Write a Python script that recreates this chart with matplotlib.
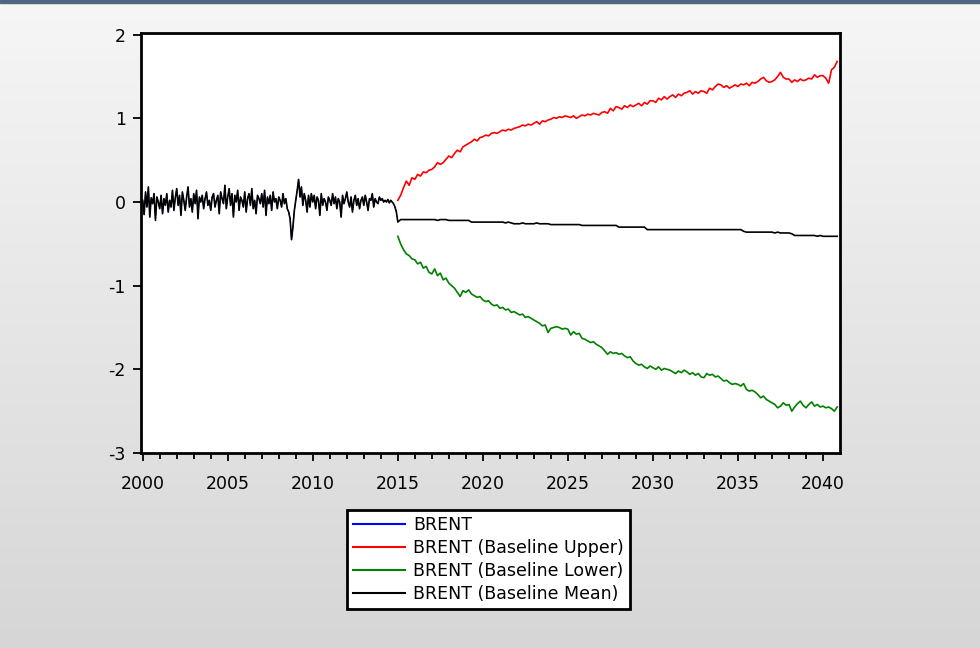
import numpy as np
import matplotlib
matplotlib.use("Agg")
import matplotlib.pyplot as plt
from matplotlib.patches import Rectangle

# ---- data (monthly history, bimonthly forecast) ----
hist_start = 2000.0
hist_vals = [
    0.02, -0.15, 0.12, -0.06, 0.18, -0.18, 0.05, -0.02, 0.10, -0.22, 0.06, 0.00,   # 2000
    -0.08, 0.08, -0.14, 0.04, -0.04, 0.10, -0.12, 0.02, -0.06, 0.14, -0.10, 0.05,  # 2001
    0.16, -0.04, 0.08, -0.16, 0.12, 0.02, -0.10, 0.06, 0.18, -0.06, 0.04, -0.12,   # 2002
    0.10, -0.02, 0.14, -0.20, 0.06, 0.00, 0.08, -0.08, 0.04, 0.12, -0.04, 0.02,    # 2003
    -0.10, 0.06, 0.10, -0.06, 0.02, 0.08, -0.14, 0.12, 0.04, -0.02, 0.20, -0.08,   # 2004
    0.06, 0.16, -0.04, 0.10, -0.18, 0.08, 0.00, 0.14, -0.10, 0.06, 0.02, -0.06,    # 2005
    0.12, -0.12, 0.04, 0.10, -0.04, 0.16, -0.08, 0.02, -0.14, 0.08, 0.04, -0.02,   # 2006
    0.10, -0.06, 0.14, -0.16, 0.06, -0.02, 0.08, -0.10, 0.12, 0.00, 0.04, -0.08,   # 2007
    0.06, 0.02, -0.06, 0.10, -0.02, 0.04, -0.08, -0.12, -0.20, -0.45, -0.30, -0.10,  # 2008
    0.02, 0.14, 0.27, 0.06, 0.18, -0.04, 0.10, 0.02, -0.12, 0.08, -0.06, 0.10,     # 2009
    0.00, 0.08, -0.08, 0.06, 0.02, -0.16, 0.10, -0.04, 0.04, 0.00, -0.10, 0.06,    # 2010
    0.02, -0.04, 0.10, -0.02, 0.06, -0.08, 0.04, 0.00, -0.18, 0.08, -0.02, 0.04,   # 2011
    0.12, 0.00, -0.06, 0.06, -0.12, 0.02, 0.08, -0.04, 0.04, -0.08, 0.02, 0.06,    # 2012
    -0.04, 0.08, 0.00, -0.10, 0.04, 0.02, 0.10, -0.06, 0.04, 0.00, -0.02, 0.06,    # 2013
    0.02, 0.04, 0.00, 0.02, 0.00, 0.03, -0.01, 0.02, 0.00, -0.02, -0.06, -0.12,    # 2014
]

fc_start = 2015.0
upper_vals = [
    0.02, 0.08, 0.17, 0.25, 0.20, 0.29,
    0.27, 0.33, 0.31, 0.36, 0.35, 0.38,
    0.39, 0.42, 0.47, 0.45, 0.47, 0.51,
    0.55, 0.53, 0.58, 0.62, 0.60, 0.66,
    0.68, 0.70, 0.72, 0.75, 0.73, 0.77,
    0.78, 0.80, 0.79, 0.82, 0.83, 0.82,
    0.84, 0.86, 0.85, 0.87, 0.86, 0.88,
    0.89, 0.90, 0.92, 0.91, 0.93, 0.92,
    0.94, 0.96, 0.93, 0.97, 0.96, 0.98,
    0.99, 1.01, 1.00, 1.02, 1.01, 1.03,
    1.02, 1.01, 1.03, 1.00, 1.02, 1.04,
    1.03, 1.05, 1.04, 1.06, 1.05, 1.04,
    1.07, 1.08, 1.06, 1.12, 1.09, 1.14,
    1.13, 1.11, 1.15, 1.13, 1.16, 1.14,
    1.16, 1.18, 1.15, 1.19, 1.17, 1.21,
    1.21, 1.19, 1.24, 1.22, 1.26, 1.23,
    1.26, 1.28, 1.25, 1.29, 1.27, 1.30,
    1.31, 1.33, 1.29, 1.32, 1.30, 1.33,
    1.32, 1.30, 1.36, 1.34, 1.38, 1.41,
    1.40, 1.37, 1.39, 1.36, 1.38, 1.40,
    1.38, 1.41, 1.40, 1.42, 1.39, 1.43,
    1.42, 1.44, 1.47, 1.49, 1.45, 1.43,
    1.44, 1.46, 1.50, 1.55, 1.49, 1.47,
    1.47, 1.43, 1.46, 1.44, 1.47, 1.45,
    1.46, 1.48, 1.47, 1.52, 1.49, 1.51,
    1.51, 1.48, 1.42, 1.58, 1.61, 1.68,
]
lower_vals = [
    -0.41, -0.50, -0.57, -0.62, -0.64, -0.68,
    -0.69, -0.74, -0.72, -0.79, -0.77, -0.84,
    -0.86, -0.80, -0.88, -0.85, -0.93, -0.91,
    -0.97, -1.00, -1.03, -1.08, -1.13, -1.06,
    -1.08, -1.05, -1.10, -1.12, -1.14, -1.13,
    -1.17, -1.19, -1.18, -1.22, -1.24, -1.23,
    -1.27, -1.26, -1.29, -1.28, -1.32, -1.31,
    -1.33, -1.35, -1.34, -1.38, -1.37, -1.39,
    -1.41, -1.43, -1.45, -1.48, -1.47, -1.56,
    -1.51, -1.50, -1.49, -1.50, -1.52, -1.51,
    -1.52, -1.59, -1.55, -1.58, -1.57, -1.63,
    -1.64, -1.66, -1.68, -1.67, -1.70, -1.72,
    -1.74, -1.78, -1.82, -1.79, -1.81, -1.80,
    -1.82, -1.81, -1.84, -1.86, -1.85, -1.90,
    -1.93, -1.95, -1.94, -1.97, -1.99, -1.96,
    -1.98, -2.00, -1.97, -2.01, -1.99, -2.00,
    -2.01, -2.03, -2.05, -2.02, -2.04, -2.01,
    -2.03, -2.06, -2.04, -2.07, -2.05, -2.09,
    -2.10, -2.05, -2.07, -2.06, -2.09, -2.08,
    -2.11, -2.14, -2.13, -2.16, -2.18, -2.17,
    -2.18, -2.20, -2.17, -2.24, -2.26, -2.25,
    -2.27, -2.30, -2.34, -2.32, -2.36, -2.38,
    -2.40, -2.42, -2.46, -2.44, -2.40, -2.43,
    -2.42, -2.50, -2.45, -2.41, -2.38, -2.43,
    -2.46, -2.42, -2.39, -2.44, -2.42, -2.45,
    -2.44, -2.46, -2.45, -2.47, -2.50, -2.45,
]
mean_vals = [
    -0.24, -0.21, -0.21, -0.21, -0.21, -0.21,
    -0.21, -0.21, -0.21, -0.21, -0.21, -0.21,
    -0.21, -0.21, -0.22, -0.21, -0.21, -0.21,
    -0.22, -0.22, -0.22, -0.22, -0.22, -0.22,
    -0.22, -0.22, -0.24, -0.24, -0.24, -0.24,
    -0.24, -0.24, -0.24, -0.24, -0.24, -0.24,
    -0.24, -0.24, -0.25, -0.24, -0.25, -0.26,
    -0.26, -0.26, -0.25, -0.26, -0.26, -0.26,
    -0.26, -0.25, -0.26, -0.26, -0.26, -0.26,
    -0.27, -0.27, -0.27, -0.27, -0.27, -0.27,
    -0.27, -0.27, -0.27, -0.27, -0.27, -0.28,
    -0.28, -0.28, -0.28, -0.28, -0.28, -0.28,
    -0.28, -0.28, -0.28, -0.28, -0.28, -0.28,
    -0.30, -0.30, -0.30, -0.30, -0.30, -0.30,
    -0.30, -0.30, -0.30, -0.30, -0.33, -0.33,
    -0.33, -0.33, -0.33, -0.33, -0.33, -0.33,
    -0.33, -0.33, -0.33, -0.33, -0.33, -0.33,
    -0.33, -0.33, -0.33, -0.33, -0.33, -0.33,
    -0.33, -0.33, -0.33, -0.33, -0.33, -0.33,
    -0.33, -0.33, -0.33, -0.33, -0.33, -0.33,
    -0.33, -0.33, -0.35, -0.36, -0.36, -0.36,
    -0.36, -0.36, -0.36, -0.36, -0.36, -0.36,
    -0.36, -0.37, -0.36, -0.37, -0.37, -0.37,
    -0.37, -0.38, -0.40, -0.40, -0.40, -0.40,
    -0.40, -0.40, -0.40, -0.40, -0.41, -0.40,
    -0.41, -0.41, -0.41, -0.41, -0.41, -0.41,
]

labels = ["BRENT", "BRENT (Baseline Upper)", "BRENT (Baseline Lower)", "BRENT (Baseline Mean)"]
colors = ["#0000ff", "#ff0000", "#008000", "#000000"]

t_hist = hist_start + np.arange(len(hist_vals)) / 12.0
t_fc = fc_start + np.arange(len(upper_vals)) / 6.0

plt.rcParams["font.family"] = ["DejaVu Sans"]
plt.rcParams["axes.unicode_minus"] = False
fig = plt.figure(figsize=(9.8, 6.48), dpi=100)

# background gradient + top border
bg = fig.add_axes([0, 0, 1, 1], zorder=-10)
grad = np.linspace(0, 1, 256).reshape(-1, 1)
bg.imshow(grad, aspect="auto", cmap=matplotlib.colors.LinearSegmentedColormap.from_list(
    "g", ["#f6f6f6", "#d6d6d6"]), extent=[0, 1, 0, 1], origin="upper")
bg.set_xlim(0, 1)
bg.set_ylim(0, 1)
bg.axis("off")
fig.patches.append(Rectangle((0, 1 - 3 / 648), 1, 3 / 648, transform=fig.transFigure,
                             color="#4f6584", zorder=5))

ax = fig.add_axes([141 / 980, 1 - 453 / 648, 699 / 980, 420 / 648])
ax.set_facecolor("white")

lw = 1.2
ax.plot(t_hist, hist_vals, color=colors[0], lw=0.6, label=labels[0])
ax.plot(t_fc, upper_vals, color=colors[1], lw=lw, label=labels[1])
ax.plot(t_fc, lower_vals, color=colors[2], lw=lw, label=labels[2])
ax.plot(np.concatenate([t_hist, t_fc]), hist_vals + mean_vals, color=colors[3], lw=lw, label=labels[3])

ax.set_xlim(1999.9, 2041.0)
ax.set_ylim(-3, 2.02)
ax.set_xticks(np.arange(2000, 2041, 5))
ax.set_xticks(np.arange(2000, 2041, 1), minor=True)
ax.set_yticks([-3, -2, -1, 0, 1, 2])
ax.tick_params(axis="both", which="major", direction="out", length=6, width=1.3,
               labelsize=12.5, colors="black")
ax.tick_params(axis="x", which="major", pad=10)
ax.tick_params(axis="y", which="major", pad=5)
ax.tick_params(axis="x", which="minor", direction="out", length=4, width=1.3)
for s in ax.spines.values():
    s.set_linewidth(2)
    s.set_color("black")

leg = fig.legend(loc="upper left", bbox_to_anchor=(347 / 980, 1 - 510 / 648),
                 fontsize=12.5, frameon=True, fancybox=False, edgecolor="black",
                 handlelength=3.0, handletextpad=0.5, labelspacing=0.3, borderpad=0.33,
                 borderaxespad=0)
leg.get_frame().set_linewidth(2)
leg.get_frame().set_facecolor("white")
leg.get_frame().set_alpha(1)
for line in leg.get_lines():
    line.set_linewidth(1.5)

fig.savefig("out.png", dpi=100)
